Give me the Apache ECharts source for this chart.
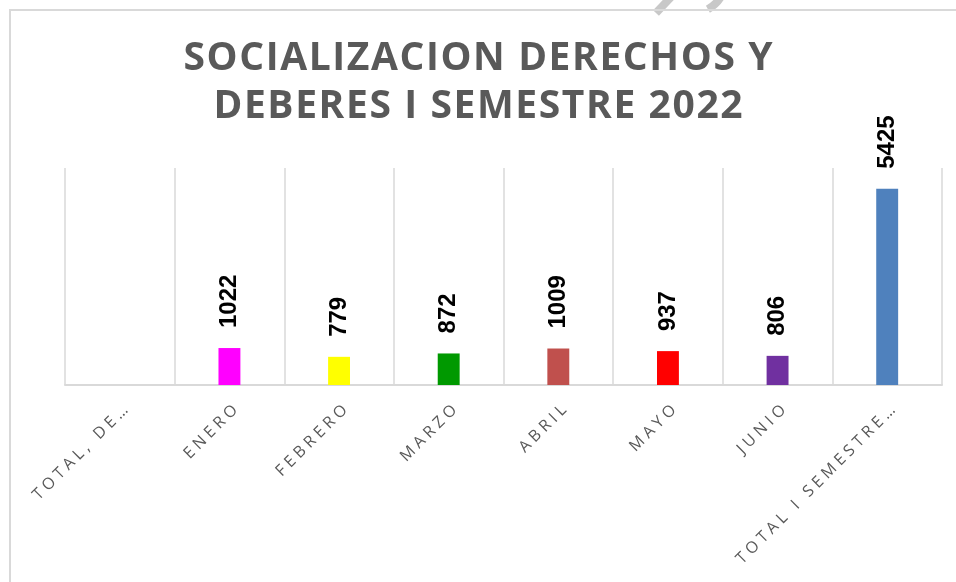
<!DOCTYPE html>
<html><head><meta charset="utf-8">
<script src="https://cdn.jsdelivr.net/npm/echarts@6/dist/echarts.min.js"></script>
<style>html,body{margin:0;padding:0;background:#fff}#c{width:956px;height:582px}</style>
</head><body><div id="c"></div>
<script>
const titleLines = ['SOCIALIZACION DERECHOS Y', 'DEBERES I SEMESTRE 2022'];
const categories = ['TOTAL, DE…', 'ENERO', 'FEBRERO', 'MARZO', 'ABRIL', 'MAYO', 'JUNIO', 'TOTAL I SEMESTRE…'];
const values = [null, 1022, 779, 872, 1009, 937, 806, 5425];
const barColors = ['#4F81BD', '#FF00FF', '#FFFF00', '#009900', '#C0504D', '#FF0000', '#7030A0', '#4F81BD'];

function spaced(s, sep){ return s.split('').join(sep); }

const titleStyle = { fontFamily: 'Open Sans', fontWeight: 'bold', fontSize: 39, color: '#595959', lineHeight: 48 };
const chart = echarts.init(document.getElementById('c'));
chart.setOption({
  animation: false,
  title: {
    text: titleLines.map(l => l.split('').map(ch => '{t|' + ch + '}').join('{g|\u200A}')).join('\n'),
    left: 'center', top: 30,
    textStyle: Object.assign({}, titleStyle, {
      rich: {
        t: titleStyle,
        g: { fontFamily: 'Open Sans', fontSize: 16, lineHeight: 48 }
      }
    })
  },
  grid: { left: 65, right: 14, top: 168, bottom: 197 },
  xAxis: {
    type: 'category', data: categories,
    axisLine: { lineStyle: { color: '#D9D9D9', width: 2 } },
    axisTick: { show: false },
    splitLine: { show: true, lineStyle: { color: '#D9D9D9', width: 1.5 } },
    axisLabel: {
      interval: 0, rotate: 45, margin: 17, verticalAlign: 'top', fontFamily: 'Open Sans', fontSize: 16, color: '#595959',
      formatter: v => spaced(v, ' ')
    }
  },
  yAxis: { type: 'value', min: 0, max: 6000, show: false, splitLine: { show: false } },
  series: [{
    type: 'bar', barWidth: '20%',
    data: values.map((v, i) => ({ value: v, itemStyle: { color: barColors[i] } })),
    label: {
      show: true, position: 'top', rotate: 90, align: 'left', verticalAlign: 'middle', distance: 20,
      fontFamily: 'Liberation Sans', fontWeight: 'bold', fontSize: 24, color: '#000'
    }
  }],
  graphic: [
    { type: 'rect', shape: { x: 10, y: 10, width: 960, height: 600 }, style: { fill: 'none', stroke: '#D9D9D9', lineWidth: 2 } },
    { type: 'polyline', shape: { points: [[656, 13], [672, -4]] }, style: { stroke: '#C8C8C8', lineWidth: 8, fill: 'none' }, z: -1 },
    { type: 'arc', shape: { cx: 690, cy: -22, r: 36, startAngle: 0.2, endAngle: 1.05 }, style: { stroke: '#C8C8C8', lineWidth: 8, fill: 'none' }, z: -1 }
  ]
});
</script></body></html>
